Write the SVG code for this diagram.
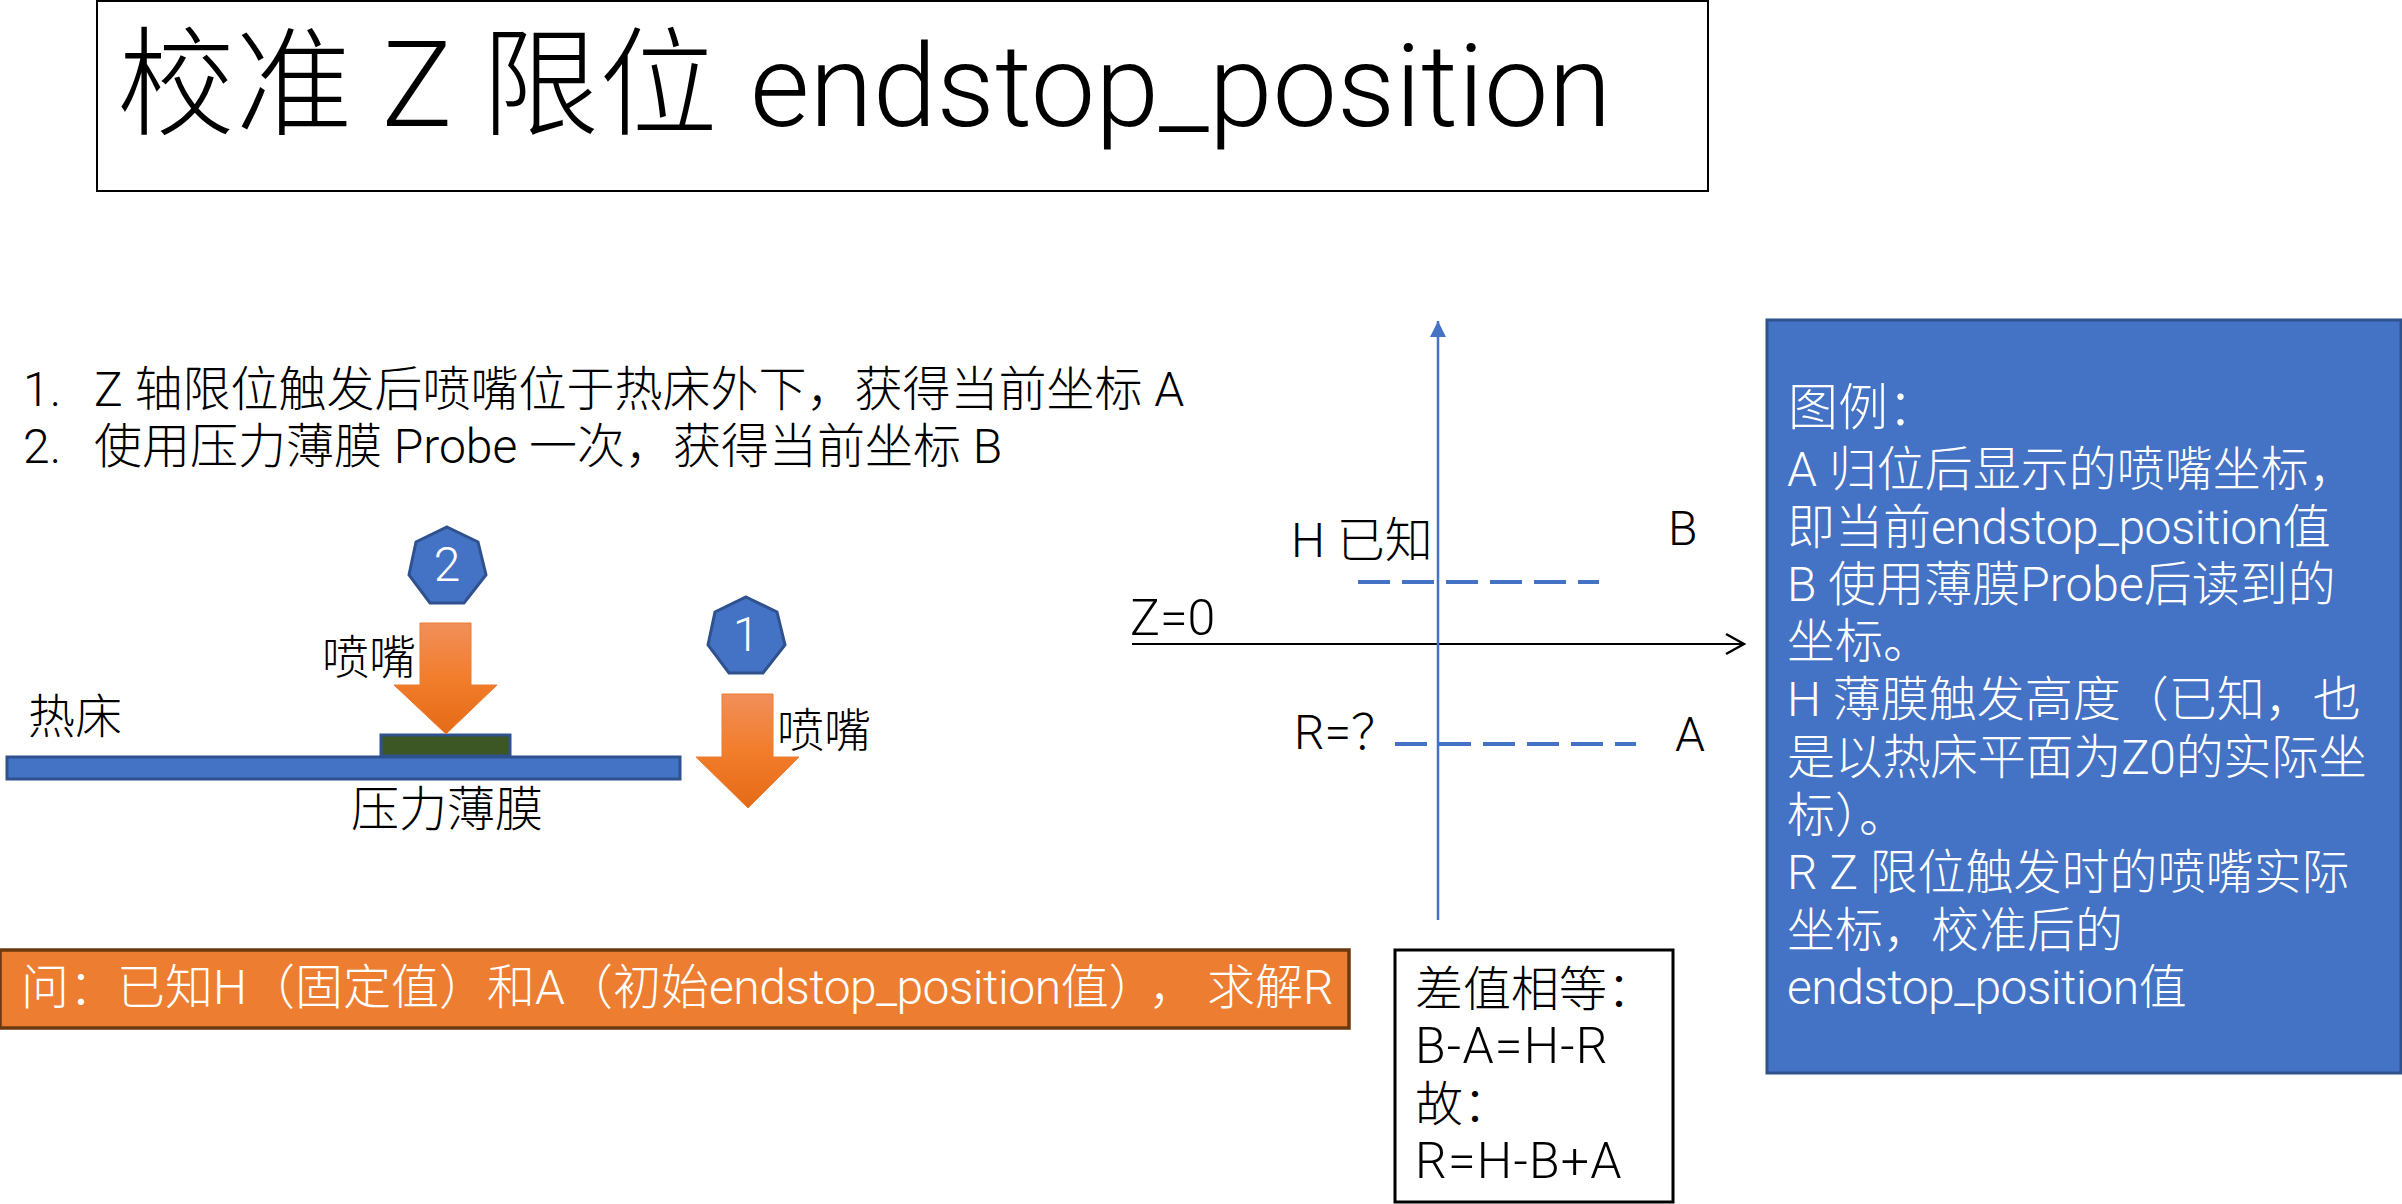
<svg xmlns="http://www.w3.org/2000/svg" width="2402" height="1204" viewBox="0 0 2402 1204">
<style>
text{font-family:Roboto,"Noto Sans CJK SC",sans-serif;font-weight:300;font-size:48px;fill:#000}
.w{fill:#fff}
.cap{font-size:50px;letter-spacing:1.2px}
.lab{font-size:47px}
.lat{letter-spacing:-.5px}
.blue{fill:#4472C4;stroke:#2F528F;stroke-width:3}
.dash{stroke:#4472C4;stroke-width:4;stroke-dasharray:32 12;fill:none}
.noz{fill:url(#g);stroke:#ED7D31;stroke-width:1}
</style>
<defs>
<linearGradient id="g" x1="0" y1="0" x2="0" y2="1"><stop offset="0" stop-color="#F18F5A"/><stop offset=".5" stop-color="#F27D2B"/><stop offset="1" stop-color="#E46A17"/></linearGradient>
<marker id="up" markerUnits="userSpaceOnUse" markerWidth="16" markerHeight="16" refX="16" refY="8" orient="auto"><path d="M0 0L16 8L0 16z" fill="#4472C4"/></marker>
<marker id="open" markerUnits="userSpaceOnUse" markerWidth="22" markerHeight="24" refX="20" refY="12" orient="auto"><path d="M2 2L20 12L2 22" fill="none" stroke="#000" stroke-width="2.5"/></marker>
</defs>
<g id="title"><rect x="97" y="1" width="1611" height="190" fill="#fff" stroke="#000" stroke-width="2"/><text x="117" y="126" style="font-size:118px">校准 Z 限位 <tspan x="750" style="font-size:115px">endstop_position</tspan></text></g>
<g id="steps"><text x="23" y="406">1.</text><text x="94" y="406">Z 轴限位触发后喷嘴位于热床外下&#xFF0C;获得当前坐标 A</text><text x="23" y="463">2.</text><text x="94" y="463">使用压力薄膜 Probe 一次&#xFF0C;获得当前坐标 B</text></g>
<g id="bed"><rect class="blue" x="7" y="757" width="673" height="22"/><text class="lab" x="28" y="733">热床</text></g>
<g id="film"><rect x="381" y="735" width="129" height="21" fill="#3D5724" stroke="#2F528F" stroke-width="3"/><text x="351" y="826">压力薄膜</text></g>
<g id="nozzle2"><path class="noz" d="M420 623H471V685H497L446 734L394 685H420z"/><text class="lab" x="322" y="674">喷嘴</text></g>
<g id="nozzle1"><path class="noz" d="M722 694H773V757H799L748 808L696 757H722z"/><text class="lab" x="777" y="747">喷嘴</text></g>
<g id="badge2"><path class="blue" d="M447 527L478 542L486 575L464 603H430L409 575L416 542z"/><text class="w" x="447" y="581" text-anchor="middle">2</text></g>
<g id="badge1"><path class="blue" d="M746 597L777 612L785 645L763 673H729L708 645L715 612z"/><text class="w" x="746" y="651" text-anchor="middle">1</text></g>
<g id="connectors">
<line x1="1132" y1="644" x2="1744" y2="644" stroke="#000" stroke-width="2" marker-end="url(#open)"/>
<line x1="1438" y1="920" x2="1438" y2="321" stroke="#4472C4" stroke-width="2.5" marker-end="url(#up)"/>
<line class="dash" x1="1358" y1="582" x2="1599" y2="582"/>
<line class="dash" x1="1395" y1="744" x2="1636" y2="744"/>
</g>
<g id="axis-labels">
<text x="1291" y="557">H 已知</text><text x="1668" y="545">B</text><text x="1130" y="635" style="font-size:50px">Z=0</text><text x="1294" y="749">R=&#xFF1F;</text><text x="1675" y="751">A</text>
</g>
<g id="question"><rect x="0" y="950" width="1349" height="78" fill="#ED7D31" stroke="#6C3810" stroke-width="3.5"/><text class="w" x="21" y="1004">问&#xFF1A;已知H&#xFF08;固定值&#xFF09;和A&#xFF08;初始<tspan class="lat">endstop_position</tspan>值&#xFF09;<tspan dx="16">&#xFF0C;</tspan><tspan x="1207">求解R</tspan></text></g>
<g id="equal"><rect x="1395" y="950" width="278" height="252" fill="#fff" stroke="#000" stroke-width="3"/>
<text x="1415" y="1006">差值相等&#xFF1A;</text><text class="cap" x="1415" y="1063">B-A=H-R</text><text x="1415" y="1121">故&#xFF1A;</text><text class="cap" x="1415" y="1178">R=H-B+A</text></g>
<g id="legend"><rect class="blue" x="1767" y="320" width="634" height="753"/>
<text class="w" x="1788" y="425" style="font-size:50px">图例&#xFF1A;</text>
<text class="w" x="1787" y="486">A 归位后显示的喷嘴坐标&#xFF0C;</text>
<text class="w" x="1787" y="544">即当前<tspan class="lat">endstop_position</tspan>值</text>
<text class="w" x="1787" y="601">B 使用薄膜Probe后读到的</text>
<text class="w" x="1787" y="658">坐标。</text>
<text class="w" x="1787" y="716">H 薄膜触发高度&#xFF08;已知&#xFF0C;也</text>
<text class="w" x="1787" y="774" style="letter-spacing:-.3px">是以热床平面为Z0的实际坐</text>
<text class="w" x="1787" y="832">标&#xFF09;。</text>
<text class="w" x="1787" y="889">R Z 限位触发时的喷嘴实际</text>
<text class="w" x="1787" y="947">坐标&#xFF0C;校准后的</text>
<text class="w" x="1787" y="1004"><tspan class="lat">endstop_position</tspan>值</text>
</g>
</svg>
